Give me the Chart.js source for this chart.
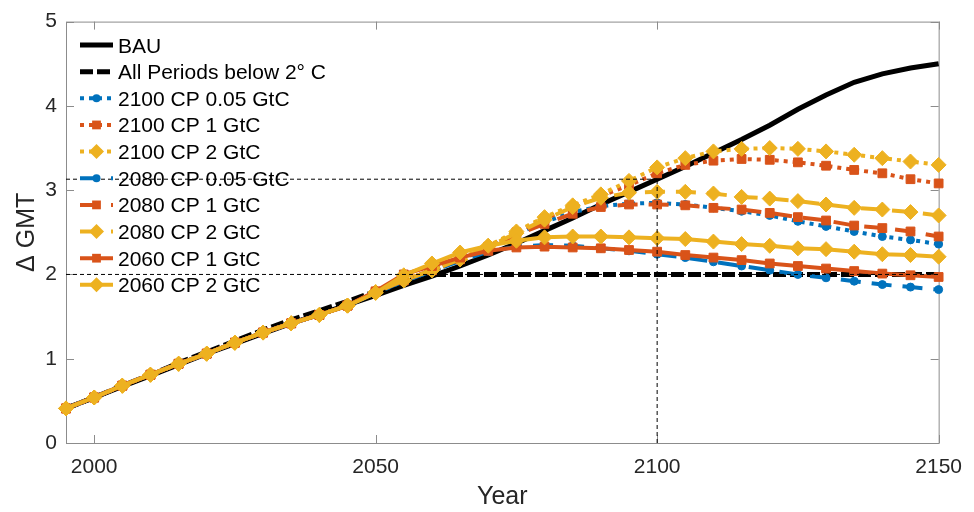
<!DOCTYPE html>
<html lang="en">
<head>
<meta charset="utf-8">
<title>Δ GMT</title>
<script src="https://cdn.jsdelivr.net/npm/chart.js@4.4.1/dist/chart.umd.min.js"></script>
<style>
html, body { margin: 0; padding: 0; background: #fff; }
canvas { display: block; }
</style>
</head>
<body>
<canvas id="gmt" width="974" height="512"></canvas>
<script>
// time axis, one point every 5 years
var years = [1995, 2000, 2005, 2010, 2015, 2020, 2025, 2030, 2035, 2040, 2045,
             2050, 2055, 2060, 2065, 2070, 2075, 2080, 2085, 2090, 2095, 2100,
             2105, 2110, 2115, 2120, 2125, 2130, 2135, 2140, 2145, 2150];
var xTicks = [2000, 2050, 2100, 2150];
var yTicks = [0, 1, 2, 3, 4, 5];

var bau        = [0.41, 0.54, 0.67, 0.80, 0.93, 1.06, 1.18, 1.30, 1.42, 1.53, 1.64,
                  1.75, 1.87, 1.98, 2.10, 2.23, 2.37, 2.52, 2.67, 2.83, 2.98, 3.13,
                  3.28, 3.44, 3.60, 3.77, 3.96, 4.13, 4.28, 4.38, 4.45, 4.50];
var allBelow2  = [0.41, 0.54, 0.68, 0.81, 0.95, 1.08, 1.21, 1.34, 1.46, 1.57, 1.68,
                  1.80, 1.91, 2.00, 2.00, 2.00, 2.00, 2.00, 2.00, 2.00, 2.00, 2.00,
                  2.00, 2.00, 2.00, 2.00, 2.00, 2.00, 2.00, 2.00, 2.00, 2.00];
var cp2100_005 = [0.41, 0.54, 0.68, 0.81, 0.94, 1.06, 1.19, 1.31, 1.42, 1.52, 1.63,
                  1.78, 1.92, 2.04, 2.17, 2.32, 2.48, 2.62, 2.74, 2.81, 2.84, 2.85,
                  2.83, 2.79, 2.75, 2.70, 2.63, 2.57, 2.51, 2.45, 2.41, 2.36];
var cp2100_1   = [0.41, 0.54, 0.68, 0.81, 0.94, 1.06, 1.19, 1.31, 1.42, 1.52, 1.63,
                  1.79, 1.93, 2.05, 2.18, 2.33, 2.50, 2.66, 2.80, 2.93, 3.06, 3.20,
                  3.30, 3.35, 3.37, 3.36, 3.33, 3.29, 3.24, 3.20, 3.13, 3.08];
var cp2100_2   = [0.41, 0.54, 0.68, 0.81, 0.94, 1.06, 1.19, 1.31, 1.42, 1.52, 1.63,
                  1.79, 1.93, 2.05, 2.18, 2.34, 2.51, 2.68, 2.82, 2.95, 3.11, 3.27,
                  3.38, 3.46, 3.49, 3.50, 3.49, 3.46, 3.42, 3.38, 3.34, 3.30];
var cp2080_005 = [0.41, 0.54, 0.68, 0.81, 0.94, 1.06, 1.19, 1.31, 1.42, 1.52, 1.63,
                  1.78, 1.92, 2.04, 2.16, 2.27, 2.33, 2.35, 2.34, 2.31, 2.28, 2.24,
                  2.20, 2.15, 2.10, 2.05, 2.00, 1.96, 1.92, 1.88, 1.85, 1.82];
var cp2080_1   = [0.41, 0.54, 0.68, 0.81, 0.94, 1.06, 1.19, 1.31, 1.42, 1.52, 1.63,
                  1.79, 1.93, 2.05, 2.18, 2.32, 2.47, 2.60, 2.72, 2.80, 2.83, 2.83,
                  2.82, 2.79, 2.77, 2.73, 2.68, 2.64, 2.58, 2.55, 2.51, 2.45];
var cp2080_2   = [0.41, 0.54, 0.68, 0.81, 0.94, 1.06, 1.19, 1.31, 1.42, 1.52, 1.63,
                  1.79, 1.93, 2.05, 2.18, 2.33, 2.49, 2.65, 2.80, 2.91, 2.97, 2.98,
                  2.98, 2.96, 2.92, 2.90, 2.87, 2.83, 2.79, 2.77, 2.74, 2.70];
var cp2060_1   = [0.41, 0.54, 0.68, 0.81, 0.94, 1.06, 1.19, 1.31, 1.42, 1.52, 1.63,
                  1.80, 2.00, 2.10, 2.20, 2.28, 2.32, 2.33, 2.32, 2.31, 2.29, 2.27,
                  2.23, 2.20, 2.17, 2.13, 2.10, 2.07, 2.04, 2.01, 1.99, 1.97];
var cp2060_2   = [0.41, 0.54, 0.68, 0.81, 0.94, 1.06, 1.19, 1.31, 1.42, 1.52, 1.63,
                  1.78, 1.99, 2.13, 2.26, 2.34, 2.40, 2.44, 2.45, 2.45, 2.44, 2.43,
                  2.42, 2.39, 2.36, 2.34, 2.31, 2.30, 2.27, 2.24, 2.23, 2.21];

var TARGET = 2.0;      // 2 degree limit
var REF_YEAR = 2100;   // BAU level in this year gets a guide line

var BLUE = '#0072BD', ORANGE = '#D95319', YELLOW = '#EDB120';
var DOT = [4, 5], DASH = [20, 11];
var FONT = '"Liberation Sans", Arial, Helvetica, sans-serif';
var MARK = { circle: 4, rect: 6.2, rectRot: 7.5 };

function series(label, vals, color, dash, marker, width) {
  return {
    label: label,
    data: years.map(function (y, i) { return { x: y, y: vals[i] }; }),
    borderColor: color,
    backgroundColor: color,
    borderWidth: width || 4,
    borderDash: dash,
    borderCapStyle: 'butt',
    pointStyle: marker || 'circle',
    pointRadius: marker ? MARK[marker] : 0,
    pointBorderWidth: 1,
    pointBorderColor: color,
    pointBackgroundColor: color,
    tension: 0,
    clip: false,
    inLegend: true
  };
}

function guide(pts) {
  return {
    label: '',
    data: pts,
    borderColor: '#000',
    borderWidth: 1,
    borderDash: [4, 3],
    pointRadius: 0,
    clip: false,
    order: -1
  };
}

var refLevel = bau[years.indexOf(REF_YEAR)];

var lines = [
  series('BAU', bau, '#000', [], null, 5),
  series('All Periods below 2\u00b0 C', allBelow2, '#000', [13, 4], null, 5),
  series('2100 CP 0.05 GtC', cp2100_005, BLUE, DOT, 'circle'),
  series('2100 CP 1 GtC', cp2100_1, ORANGE, DOT, 'rect'),
  series('2100 CP 2 GtC', cp2100_2, YELLOW, DOT, 'rectRot'),
  series('2080 CP 0.05 GtC', cp2080_005, BLUE, DASH, 'circle'),
  series('2080 CP 1 GtC', cp2080_1, ORANGE, DASH, 'rect'),
  series('2080 CP 2 GtC', cp2080_2, YELLOW, DASH, 'rectRot'),
  series('2060 CP 1 GtC', cp2060_1, ORANGE, [], 'rect'),
  series('2060 CP 2 GtC', cp2060_2, YELLOW, [], 'rectRot')
];
// later entries sit on top
lines.forEach(function (d, i) { d.order = lines.length - i; });

var datasets = lines.concat([
  guide([{ x: years[0], y: refLevel }, { x: REF_YEAR, y: refLevel }]),
  guide([{ x: REF_YEAR, y: 0 }, { x: REF_YEAR, y: refLevel }]),
  guide([{ x: years[0], y: TARGET }, { x: years[years.length - 1], y: TARGET }])
]);

function drawMark(ctx, style, r, x, y) {
  ctx.beginPath();
  if (style === 'circle') {
    ctx.arc(x, y, r, 0, Math.PI * 2);
  } else if (style === 'rect') {
    var s = r * Math.SQRT1_2;
    ctx.rect(x - s, y - s, 2 * s, 2 * s);
  } else {
    ctx.moveTo(x - r, y); ctx.lineTo(x, y - r);
    ctx.lineTo(x + r, y); ctx.lineTo(x, y + r);
    ctx.closePath();
  }
  ctx.fill();
}

// axes box with inward ticks, drawn under the data
var frame = {
  id: 'frame',
  beforeDatasetsDraw: function (chart) {
    var a = chart.chartArea, ctx = chart.ctx;
    var sx = chart.scales.x, sy = chart.scales.y;
    ctx.save();
    ctx.strokeStyle = '#8c8c8c';
    ctx.lineWidth = 1;
    ctx.strokeRect(a.left + 0.5, a.top + 0.5, a.right - a.left, a.bottom - a.top);
    ctx.beginPath();
    xTicks.forEach(function (v) {
      var p = Math.round(sx.getPixelForValue(v)) + 0.5;
      ctx.moveTo(p, a.bottom); ctx.lineTo(p, a.bottom - 8);
      ctx.moveTo(p, a.top); ctx.lineTo(p, a.top + 8);
    });
    yTicks.forEach(function (v) {
      var p = Math.round(sy.getPixelForValue(v)) + 0.5;
      ctx.moveTo(a.left, p); ctx.lineTo(a.left + 8, p);
      ctx.moveTo(a.right, p); ctx.lineTo(a.right - 8, p);
    });
    ctx.stroke();
    ctx.restore();
  }
};

// legend in the upper left corner of the axes, no box
var keyBox = {
  id: 'keyBox',
  afterDatasetsDraw: function (chart) {
    var ctx = chart.ctx;
    var x0 = 80, x1 = 113, tx = 118, y0 = 45, step = 26.65;
    ctx.save();
    chart.data.datasets.filter(function (d) { return d.inLegend; }).forEach(function (d, i) {
      var y = y0 + i * step;
      ctx.strokeStyle = d.borderColor;
      ctx.fillStyle = d.borderColor;
      ctx.lineWidth = d.borderWidth;
      ctx.setLineDash(d.borderDash);
      ctx.lineCap = 'butt';
      ctx.beginPath();
      ctx.moveTo(x0, y); ctx.lineTo(x1, y);
      ctx.stroke();
      ctx.setLineDash([]);
      if (d.pointRadius) drawMark(ctx, d.pointStyle, d.pointRadius, (x0 + x1) / 2, y);
      ctx.fillStyle = '#000';
      ctx.font = '21px ' + FONT;
      ctx.textBaseline = 'alphabetic';
      ctx.fillText(d.label, tx, y + 7.5);
    });
    ctx.restore();
  }
};

var tickFont = { family: FONT, size: 21 };

new Chart(document.getElementById('gmt').getContext('2d'), {
  type: 'line',
  data: { datasets: datasets },
  options: {
    responsive: false,
    animation: false,
    devicePixelRatio: 1,
    layout: { padding: { top: 19, right: 35, bottom: 0, left: 0 } },
    plugins: { legend: { display: false }, tooltip: { enabled: false } },
    elements: { line: { fill: false } },
    scales: {
      x: {
        type: 'linear',
        min: 1995,
        max: 2150,
        afterBuildTicks: function (s) { s.ticks = xTicks.map(function (v) { return { value: v }; }); },
        afterFit: function (s) { s.height = 69; },
        grid: { display: false, drawTicks: false },
        border: { display: false },
        ticks: {
          color: '#262626', font: tickFont, padding: 12,
          maxRotation: 0, autoSkip: false,
          callback: function (v) { return String(v); }
        },
        title: { display: true, text: 'Year', color: '#262626',
                 font: { family: FONT, size: 25 }, padding: { top: 0, bottom: 0 } }
      },
      y: {
        min: 0,
        max: 5,
        afterBuildTicks: function (s) { s.ticks = yTicks.map(function (v) { return { value: v }; }); },
        afterFit: function (s) { s.width = 66; },
        grid: { display: false, drawTicks: false },
        border: { display: false },
        ticks: { color: '#262626', font: tickFont, padding: 9 },
        title: { display: true, text: '\u0394 GMT', color: '#262626',
                 font: { family: FONT, size: 25 }, padding: { top: 12, bottom: 0 } }
      }
    }
  },
  plugins: [frame, keyBox]
});
</script>
</body>
</html>
